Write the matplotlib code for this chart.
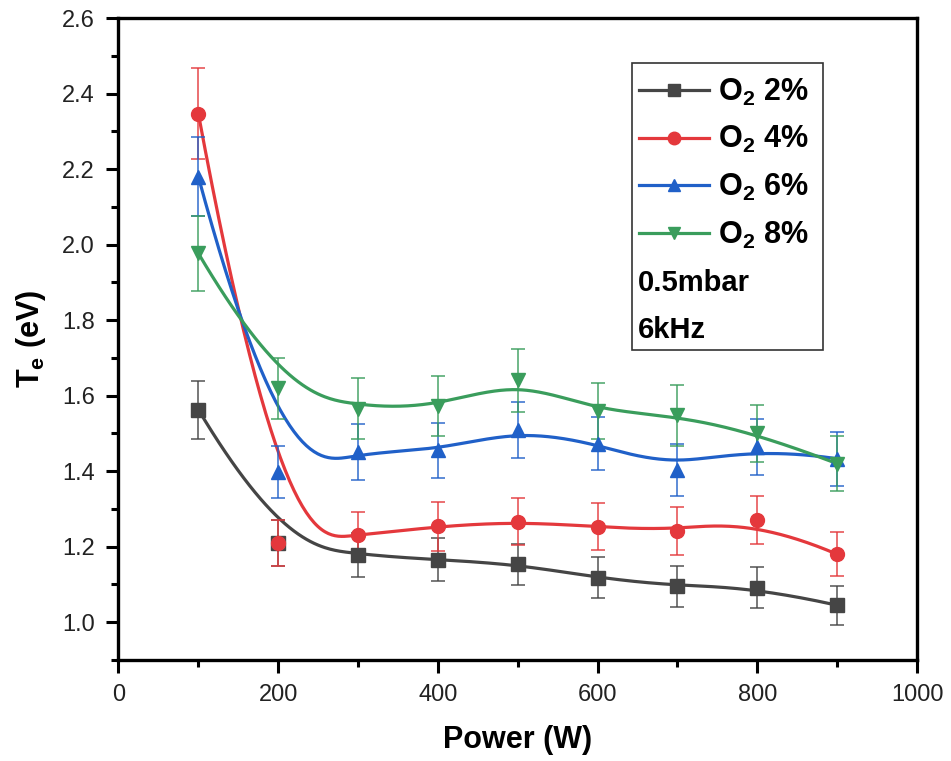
import numpy as np
import matplotlib.pyplot as plt
from matplotlib.lines import Line2D
from matplotlib.patches import Rectangle
from matplotlib.ticker import MultipleLocator

plt.rcParams['font.family'] = ['Liberation Sans', 'DejaVu Sans']
plt.rcParams['mathtext.fontset'] = 'custom'
plt.rcParams['mathtext.rm'] = 'Liberation Sans:bold'
plt.rcParams['mathtext.bf'] = 'Liberation Sans:bold'
plt.rcParams['mathtext.default'] = 'bf'

# data
power = [100, 200, 300, 400, 500, 600, 700, 800, 900]

te_2 = [1.563, 1.21, 1.178, 1.166, 1.153, 1.118, 1.095, 1.092, 1.045]
te_4 = [2.347, 1.21, 1.230, 1.254, 1.266, 1.253, 1.242, 1.270, 1.180]
te_6 = [2.180, 1.398, 1.451, 1.455, 1.509, 1.473, 1.403, 1.464, 1.433]
te_8 = [1.977, 1.619, 1.566, 1.572, 1.641, 1.559, 1.548, 1.500, 1.420]

err_2 = [0.077, 0.060, 0.058, 0.058, 0.055, 0.055, 0.055, 0.055, 0.052]
err_4 = [0.120, 0.060, 0.063, 0.064, 0.062, 0.062, 0.063, 0.063, 0.058]
err_6 = [0.105, 0.070, 0.073, 0.072, 0.075, 0.070, 0.070, 0.075, 0.072]
err_8 = [0.100, 0.080, 0.080, 0.080, 0.083, 0.075, 0.080, 0.075, 0.072]

labels = ['O$_2$ 2%', 'O$_2$ 4%', 'O$_2$ 6%', 'O$_2$ 8%']
colors = ['#454545', '#e4383c', '#2060c8', '#3a9d5c']
markers = ['s', 'o', '^', 'v']


def bspline(xs, ys, n=400, k=3):
    # clamped cubic B-spline, data points used as control points
    P = np.column_stack([xs, ys]).astype(float)
    m = len(P)
    knots = np.concatenate([np.zeros(k), np.linspace(0, 1, m - k + 1), np.ones(k)])
    t = np.linspace(0, 1, n)
    t[-1] -= 1e-9
    B = np.array([((t >= knots[i]) & (t < knots[i + 1])).astype(float)
                  for i in range(len(knots) - 1)])
    for d in range(1, k + 1):
        nb = np.zeros((B.shape[0] - 1, n))
        for i in range(B.shape[0] - 1):
            den1 = knots[i + d] - knots[i]
            den2 = knots[i + d + 1] - knots[i + 1]
            if den1 > 0:
                nb[i] += (t - knots[i]) / den1 * B[i]
            if den2 > 0:
                nb[i] += (knots[i + d + 1] - t) / den2 * B[i + 1]
        B = nb
    curve = B.T @ P
    return curve[:, 0], curve[:, 1]


fig = plt.figure(figsize=(9.51, 7.61), dpi=100)
ax = fig.add_axes([0.1246, 0.1327, 0.8397, 0.8436])

series = [(te_2, err_2), (te_4, err_4), (te_6, err_6), (te_8, err_8)]
handles = []
for (y, e), c, mk, lab in zip(series, colors, markers, labels):
    sx, sy = bspline(power, y)
    ax.plot(sx, sy, color=c, lw=2.3, zorder=2)
    ax.errorbar(power, y, yerr=e, fmt='none', ecolor=c, elinewidth=1.2,
                capsize=5, capthick=1.2, alpha=0.85, zorder=3)
    ax.plot(power, y, linestyle='none', marker=mk, color=c, markersize=10,
            markeredgecolor=c, zorder=4)
    handles.append(Line2D([], [], color=c, lw=2.3, marker=mk, markersize=9,
                          markeredgecolor=c, label=lab))

ax.set_xlim(0, 1000)
ax.set_ylim(0.9, 2.6)
ax.xaxis.set_major_locator(MultipleLocator(200))
ax.xaxis.set_minor_locator(MultipleLocator(100))
ax.yaxis.set_major_locator(MultipleLocator(0.2))
ax.yaxis.set_minor_locator(MultipleLocator(0.1))
ax.yaxis.set_major_formatter(plt.FormatStrFormatter('%.1f'))

for s in ax.spines.values():
    s.set_linewidth(2.4)
    s.set_color('black')
ax.tick_params(which='both', direction='out', top=False, right=False, width=2.2)
ax.tick_params(which='major', length=9, labelsize=17, pad=8, labelcolor='#222222')
ax.tick_params(which='minor', length=5)

ax.set_xlabel('Power (W)', fontsize=22, fontweight='bold', labelpad=14)
ax.set_ylabel('T$_e$ (eV)', fontsize=22, fontweight='bold', labelpad=10)

# legend box with the two condition lines
ax.add_patch(Rectangle((0.643, 0.483), 0.239, 0.447, transform=ax.transAxes,
                       fill=True, facecolor='white', edgecolor='#333333',
                       lw=1.2, zorder=5))
leg = ax.legend(handles=handles, loc='upper left', bbox_to_anchor=(0.640, 0.923),
                frameon=False, prop={'size': 22, 'weight': 'bold'},
                handlelength=2.3, handletextpad=0.3, labelspacing=0.54,
                borderaxespad=0, borderpad=0.3)
leg.set_zorder(6)
ax.text(0.650, 0.587, '0.5mbar', transform=ax.transAxes, fontsize=21,
        fontweight='bold', va='center', ha='left', zorder=7)
ax.text(0.650, 0.514, '6kHz', transform=ax.transAxes, fontsize=21,
        fontweight='bold', va='center', ha='left', zorder=7)

fig.savefig('out.png', dpi=100)
